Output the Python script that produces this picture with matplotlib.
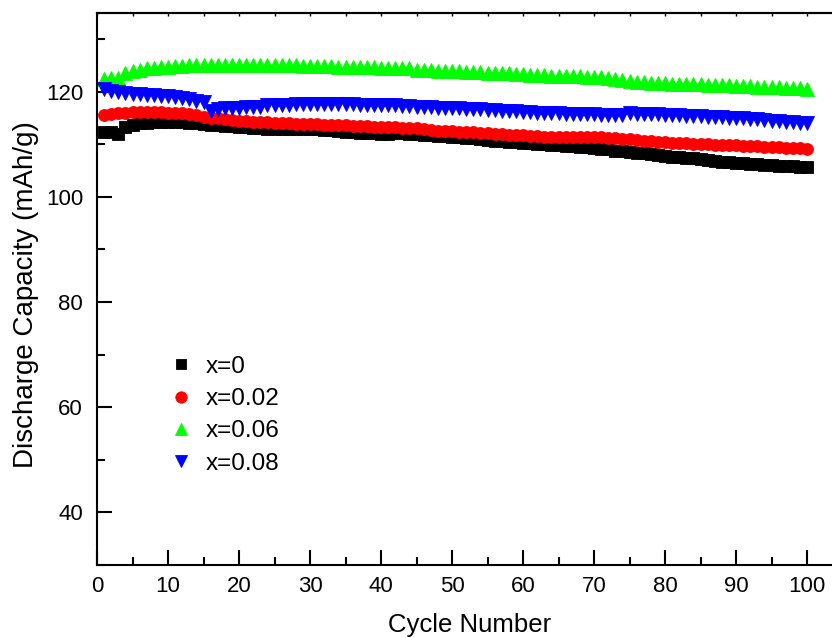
import numpy as np
import matplotlib
matplotlib.use("Agg")
import matplotlib.pyplot as plt
from matplotlib.ticker import MultipleLocator

plt.rcParams['font.family'] = ['Liberation Sans', 'DejaVu Sans']

cycles = list(range(1, 101))

cap_x0 = [112.4, 112.4, 112.0, 113.3, 113.7, 114.0, 114.1, 114.2, 114.3, 114.3,
          114.2, 114.2, 114.1, 114.0, 113.9, 113.7, 113.6, 113.5, 113.4, 113.3,
          113.2, 113.1, 113.0, 112.9, 112.9, 112.9, 112.9, 112.8, 112.8, 112.8,
          112.8, 112.7, 112.7, 112.6, 112.3, 112.3, 112.2, 112.1, 112.1, 112.0,
          112.0, 112.1, 112.1, 112.0, 111.9, 111.8, 111.7, 111.6, 111.5, 111.4,
          111.3, 111.2, 111.1, 110.9, 110.8, 110.7, 110.6, 110.5, 110.4, 110.3,
          110.2, 110.1, 110.0, 109.9, 109.8, 109.7, 109.6, 109.5, 109.4, 109.2,
          109.1, 109.0, 108.8, 108.7, 108.5, 108.4, 108.3, 108.1, 107.9, 107.7,
          107.6, 107.5, 107.4, 107.3, 107.2, 107.0, 106.8, 106.7, 106.6, 106.5,
          106.4, 106.3, 106.2, 106.1, 106.0, 105.9, 105.8, 105.8, 105.7, 105.6]

cap_x002 = [115.6, 115.8, 115.9, 116.0, 116.1, 116.1, 116.1, 116.1, 116.1, 116.0,
            116.0, 116.0, 115.8, 115.5, 115.2, 115.0, 114.9, 114.7, 114.6, 114.5,
            114.4, 114.3, 114.3, 114.2, 114.1, 114.1, 114.0, 113.9, 113.9, 113.8,
            113.8, 113.7, 113.7, 113.6, 113.6, 113.5, 113.4, 113.4, 113.3, 113.3,
            113.2, 113.2, 113.1, 113.1, 113.0, 112.8, 112.7, 112.6, 112.5, 112.5,
            112.4, 112.4, 112.3, 112.2, 112.1, 112.0, 111.9, 111.8, 111.8, 111.7,
            111.6, 111.5, 111.4, 111.4, 111.3, 111.3, 111.3, 111.3, 111.3, 111.3,
            111.3, 111.2, 111.1, 111.0, 110.9, 110.8, 110.7, 110.6, 110.5, 110.4,
            110.3, 110.3, 110.2, 110.1, 110.0, 110.0, 109.9, 109.9, 109.8, 109.8,
            109.7, 109.6, 109.6, 109.5, 109.5, 109.4, 109.3, 109.3, 109.2, 109.1]

cap_x006 = [122.4, 122.5, 122.6, 123.6, 124.0, 124.2, 124.4, 124.5, 124.6, 124.7,
            124.8, 124.9, 125.0, 125.0, 125.0, 125.0, 125.0, 125.0, 125.0, 125.0,
            125.0, 125.0, 125.0, 125.0, 125.0, 125.0, 125.0, 125.1, 124.9, 124.9,
            124.8, 124.8, 124.8, 124.7, 124.7, 124.7, 124.7, 124.6, 124.6, 124.5,
            124.5, 124.5, 124.4, 124.4, 124.2, 124.1, 124.1, 124.0, 124.0, 123.9,
            123.9, 123.8, 123.8, 123.7, 123.6, 123.6, 123.5, 123.5, 123.4, 123.3,
            123.2, 123.1, 123.1, 123.0, 123.0, 123.0, 122.9, 122.9, 122.8, 122.8,
            122.8, 122.6, 122.4, 122.2, 122.0, 121.9, 121.8, 121.7, 121.6, 121.6,
            121.5, 121.5, 121.5, 121.4, 121.4, 121.3, 121.3, 121.2, 121.2, 121.1,
            121.1, 121.0, 120.9, 120.9, 120.8, 120.8, 120.7, 120.6, 120.6, 120.5]

cap_x008 = [120.5, 120.2, 120.0, 119.8, 119.6, 119.5, 119.4, 119.3, 119.2, 119.1,
            119.0, 118.8, 118.5, 118.3, 118.0, 116.3, 116.6, 116.8, 116.9, 116.9,
            117.0, 117.0, 117.1, 117.4, 117.5, 117.5, 117.5, 117.6, 117.6, 117.6,
            117.6, 117.6, 117.6, 117.6, 117.6, 117.6, 117.5, 117.5, 117.5, 117.4,
            117.4, 117.4, 117.3, 117.2, 117.1, 117.0, 117.0, 116.9, 116.9, 116.8,
            116.8, 116.7, 116.7, 116.6, 116.5, 116.5, 116.4, 116.3, 116.3, 116.2,
            116.1, 116.0, 116.0, 115.9, 115.9, 115.8, 115.8, 115.8, 115.7, 115.7,
            115.6, 115.6, 115.5, 115.5, 115.9, 115.8, 115.8, 115.7, 115.7, 115.6,
            115.6, 115.5, 115.4, 115.4, 115.3, 115.2, 115.1, 115.1, 115.0, 115.0,
            114.9, 114.8, 114.7, 114.6, 114.5, 114.4, 114.3, 114.2, 114.1, 114.0]

labels = ["x=0", "x=0.02", "x=0.06", "x=0.08"]
xticks = [0, 10, 20, 30, 40, 50, 60, 70, 80, 90, 100]
yticks = [40, 60, 80, 100, 120]

fig = plt.figure(figsize=(8.32, 6.38), dpi=100)
W, H = 832, 638
ax = fig.add_axes([97 / W, 73 / H, 745.5 / W, 552.3 / H])

ax.plot(cycles, cap_x0, 's', color='black', markersize=8.0, markeredgewidth=0.6,
        markeredgecolor='black', label=labels[0])
ax.plot(cycles, cap_x002, 'o', color='#FF0000', markersize=8.6, markeredgewidth=0.6,
        markeredgecolor='#FF0000', label=labels[1])
ax.plot(cycles, cap_x006, '^', color='#00FF00', markersize=9.8, markeredgewidth=0.6,
        markeredgecolor='#00FF00', label=labels[2])
ax.plot(cycles, cap_x008, 'v', color='#0000FF', markersize=9.8, markeredgewidth=0.6,
        markeredgecolor='#0000FF', label=labels[3])

ax.set_xlim(0, 105)
ax.set_ylim(30, 135)
ax.set_xticks(xticks)
ax.set_yticks(yticks)
ax.xaxis.set_minor_locator(MultipleLocator(5))
ax.yaxis.set_minor_locator(MultipleLocator(10))
ax.tick_params(which='major', direction='in', length=11, width=1.5, labelsize=16)
ax.tick_params(axis='x', which='major', pad=8)
ax.tick_params(axis='y', which='major', pad=10)
ax.tick_params(which='minor', direction='in', length=6, width=1.5)
ax.tick_params(top=False, right=False)
for s in ax.spines.values():
    s.set_linewidth(1.5)

sec = ax.secondary_xaxis('top')
sec.set_xticks(list(range(0, 105, 5)))
sec.tick_params(direction='in', length=2.5, width=1.0, labeltop=False)
sec.spines['top'].set_linewidth(1.5)

ax.set_xlabel("Cycle Number", fontsize=18.5, labelpad=11.5)
ax.set_ylabel("Discharge Capacity (mAh/g)", fontsize=20)
ax.yaxis.set_label_coords(-0.078, 0.49)

ax.legend(loc='center left', bbox_to_anchor=((170 - 97) / 745.5, 0.271),
          frameon=False, fontsize=17.5, handlelength=0.9, handletextpad=0.55,
          borderpad=0, borderaxespad=0, labelspacing=0.42, numpoints=1,
          markerscale=0.95)

fig.savefig("out.png", dpi=100)
